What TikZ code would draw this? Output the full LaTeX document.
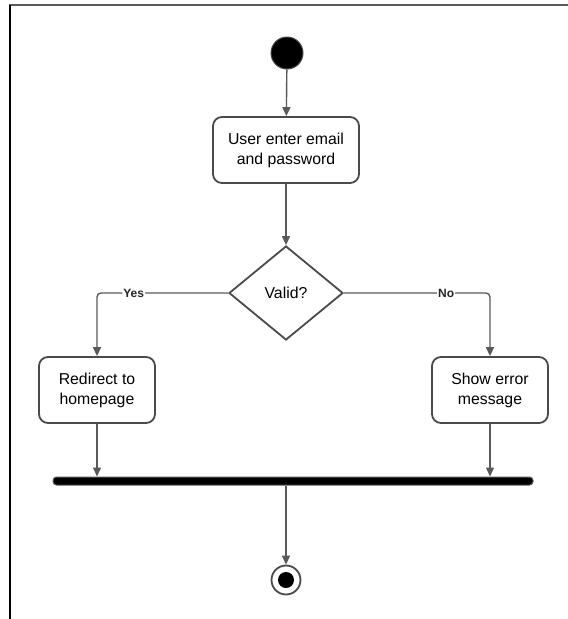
\documentclass[tikz,border=0pt]{standalone}
\usepackage{fontspec}
\setmainfont{Liberation Sans}
\usetikzlibrary{shapes.geometric,arrows.meta}
\definecolor{linegray}{HTML}{595959}
\definecolor{boxgray}{HTML}{4A4A4A}
\begin{document}
\begin{tikzpicture}[x=1pt,y=-1pt,
  actbox/.style={draw=boxgray,line width=1.8pt,rounded corners=9pt,minimum width=146pt,minimum height=66pt,align=center,font=\fontsize{15.8}{20}\selectfont,inner sep=0pt},
  sidebox/.style={actbox,minimum width=116pt},
  flow/.style={draw=linegray,line width=1.4pt,-{Triangle[length=9pt,width=8pt]}},
  lbl/.style={fill=white,font=\fontsize{12}{14}\bfseries,inner sep=1pt,text=black!85}]
\useasboundingbox (0,0) rectangle (568,619);
\draw[linegray,line width=1.2pt] (9,5) -- (568,5);
\draw[black,line width=1.2pt] (10,5) -- (10,619);
\node[circle,fill=black,draw=boxgray,line width=1pt,minimum size=32pt,inner sep=0pt] (start) at (287,53) {};
\node[actbox] (enter) at (286,150) {User enter email\\and password};
\node[diamond,draw=boxgray,line width=1.8pt,minimum width=114pt,minimum height=94pt,inner sep=0pt,aspect=1.2,font=\fontsize{15.8}{20}\selectfont] (valid) at (286,293) {Valid?};
\node[sidebox] (redir) at (97,390) {Redirect to\\homepage};
\node[sidebox] (err) at (490,390) {Show error\\message};
\node[rectangle,fill=black,draw=linegray,line width=1pt,rounded corners=3.5pt,minimum width=480pt,minimum height=8pt,inner sep=0pt] (bar) at (293,481) {};
\node[circle,draw=boxgray,line width=1.8pt,minimum size=29pt,inner sep=0pt] (final) at (286,580) {};
\node[circle,fill=black,minimum size=16pt,inner sep=0pt] (finalin) at (286,580) {};
\draw[flow] (start) -- (enter);
\draw[flow] (enter) -- (valid);
\draw[flow,rounded corners=4pt] (valid.west) -- (97,293) node[lbl,pos=0.72] {Yes} -- (redir.north);
\draw[flow,rounded corners=4pt] (valid.east) -- (490,293) node[lbl,pos=0.7] {No} -- (err.north);
\draw[flow] (redir.south) -- (redir.south |- bar.north);
\draw[flow] (err.south) -- (err.south |- bar.north);
\draw[flow] (bar.south -| final) -- (final.north);
\end{tikzpicture}
\end{document}
